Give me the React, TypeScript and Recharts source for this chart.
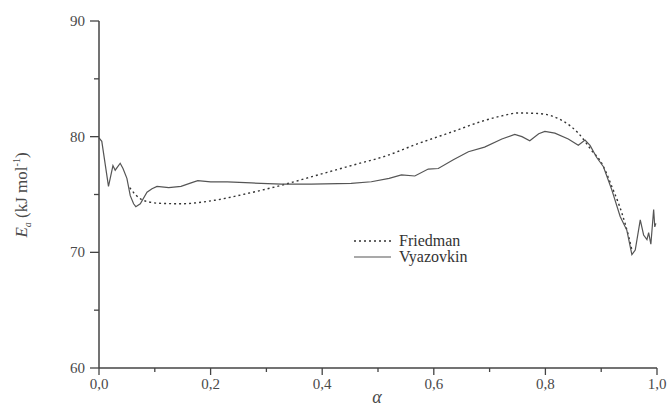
import React from 'react';
import { LineChart, Line, XAxis, YAxis, Legend } from 'recharts';

// conversion degree (alpha) vs activation energy
const friedmanAlpha = [
  0.055, 0.065, 0.075, 0.09, 0.105, 0.147, 0.207, 0.267, 0.327, 0.393, 0.452, 0.512,
  0.572, 0.632, 0.691, 0.722, 0.752, 0.788, 0.811, 0.835, 0.859, 0.883, 0.901, 0.919,
  0.937, 0.949, 0.955,
];
const friedmanEa = [
  75.6, 75.0, 74.6, 74.35, 74.25, 74.2, 74.5, 75.1, 75.8, 76.7, 77.5, 78.3,
  79.4, 80.4, 81.4, 81.8, 82.05, 82.0, 81.8, 81.25, 80.3, 78.8, 77.7, 75.7,
  73.4, 71.4, 70.2,
];

const vyazovkinAlpha = [
  0.0, 0.005, 0.017, 0.025, 0.029, 0.038, 0.043, 0.05, 0.056, 0.062, 0.066, 0.074,
  0.086, 0.095, 0.104, 0.125, 0.147, 0.165, 0.177, 0.2, 0.23, 0.273, 0.327, 0.38,
  0.452, 0.488, 0.52, 0.542, 0.566, 0.59, 0.608, 0.635, 0.662, 0.691, 0.722, 0.745,
  0.758, 0.772, 0.788, 0.799, 0.817, 0.841, 0.859, 0.871, 0.88, 0.892, 0.904, 0.919,
  0.934, 0.946, 0.955, 0.961, 0.97, 0.976, 0.982, 0.985, 0.989, 0.994, 0.996, 0.998,
];
const vyazovkinEa = [
  79.9, 79.6, 75.7, 77.5, 77.1, 77.7, 77.25, 76.4, 74.9, 74.2, 73.95, 74.2,
  75.2, 75.5, 75.7, 75.6, 75.7, 76.0, 76.2, 76.1, 76.1, 76.0, 75.9, 75.9,
  75.96, 76.1, 76.4, 76.7, 76.6, 77.2, 77.25, 78.0, 78.7, 79.1, 79.8, 80.2,
  80.0, 79.65, 80.25, 80.45, 80.3, 79.8, 79.25, 79.7, 79.25, 78.2, 77.4, 75.4,
  73.1, 71.9, 69.8, 70.2, 72.8, 71.5, 71.1, 71.7, 70.7, 73.7, 72.2, 72.5,
];

const xTicks = [0, 0.1, 0.2, 0.3, 0.4, 0.5, 0.6, 0.7, 0.8, 0.9, 1.0];
const yTicks = [60, 65, 70, 75, 80, 85, 90];

const friedman = friedmanAlpha.map((a, i) => ({ a, ea: friedmanEa[i] }));
const vyazovkin = vyazovkinAlpha.map((a, i) => ({ a, ea: vyazovkinEa[i] }));

const AXIS = '#444';
const TEXT = '#4a4a4a';
const FONT = 'Liberation Serif, Times New Roman, DejaVu Serif, serif';

const series = [
  { name: 'Friedman', color: '#333', dash: '2 3', width: 1.4 },
  { name: 'Vyazovkin', color: '#555', dash: undefined, width: 1.2 },
];

function XTick({ x, y, payload }: any) {
  const major = Math.round(payload.value * 10) % 2 === 0;
  return (
    <g>
      <line x1={x} x2={x} y1={y} y2={y + (major ? 7 : 4)} stroke={AXIS} strokeWidth={1.3} />
      {major && (
        <text x={x} y={y + 21} textAnchor="middle" style={{ fontFamily: FONT }} fontSize={15} fill={TEXT}>
          {payload.value.toFixed(1).replace('.', ',')}
        </text>
      )}
    </g>
  );
}

function YTick({ x, y, payload }: any) {
  const major = payload.value % 10 === 0;
  return (
    <g>
      <line x1={x} x2={x - (major ? 9 : 5)} y1={y} y2={y} stroke={AXIS} strokeWidth={1.3} />
      {major && (
        <text x={x - 14} y={y + 5} textAnchor="end" style={{ fontFamily: FONT }} fontSize={15} fill={TEXT}>
          {payload.value}
        </text>
      )}
    </g>
  );
}

function YLabel() {
  return (
    <text
      transform="translate(27,195) rotate(-90)"
      textAnchor="middle"
      style={{ fontFamily: FONT }}
      fontSize={17}
      fill={TEXT}
    >
      <tspan fontStyle="italic">E</tspan>
      <tspan fontStyle="italic" fontSize={10} dy={4}>a</tspan>
      <tspan dy={-4}> (kJ mol</tspan>
      <tspan fontSize={10} dy={-7}>-1</tspan>
      <tspan dy={7}>)</tspan>
    </text>
  );
}

function XLabel() {
  return (
    <text x={377} y={403} textAnchor="middle" style={{ fontFamily: FONT }} fontStyle="italic" fontSize={18} fill={TEXT}>
      α
    </text>
  );
}

function LegendBox() {
  return (
    <div style={{ fontFamily: FONT, fontSize: 16, color: '#333', lineHeight: '16px' }}>
      {series.map((s) => (
        <div key={s.name} style={{ display: 'flex', alignItems: 'center' }}>
          <svg width={45} height={16}>
            <line x1={0} x2={37} y1={8} y2={8} stroke={s.color} strokeWidth={s.width} strokeDasharray={s.dash} />
          </svg>
          <span>{s.name}</span>
        </div>
      ))}
    </div>
  );
}

export default function App() {
  return (
    <div style={{ width: 669, height: 410, background: '#fff' }}>
      <style>{'body{margin:0}'}</style>
      <LineChart width={669} height={410} margin={{ top: 21, right: 12, bottom: 0, left: 39 }}>
        <XAxis
          type="number"
          dataKey="a"
          domain={[0, 1]}
          ticks={xTicks}
          interval={0}
          height={42}
          tickSize={0}
          tickMargin={0}
          tickLine={false}
          tick={<XTick />}
          axisLine={{ stroke: AXIS, strokeWidth: 1.5 }}
          label={<XLabel />}
        />
        <YAxis
          type="number"
          domain={[60, 90]}
          ticks={yTicks}
          interval={0}
          width={60}
          tickSize={0}
          tickMargin={0}
          tickLine={false}
          tick={<YTick />}
          axisLine={{ stroke: AXIS, strokeWidth: 1.5 }}
          label={<YLabel />}
        />
        <Legend
          layout="horizontal"
          verticalAlign="middle"
          align="center"
          content={<LegendBox />}
          wrapperStyle={{ left: 354, top: 233, width: 'auto' }}
        />
        <Line
          data={friedman}
          dataKey="ea"
          name="Friedman"
          type="monotone"
          stroke={series[0].color}
          strokeWidth={series[0].width}
          strokeDasharray={series[0].dash}
          dot={false}
          isAnimationActive={false}
        />
        <Line
          data={vyazovkin}
          dataKey="ea"
          name="Vyazovkin"
          type="linear"
          stroke={series[1].color}
          strokeWidth={series[1].width}
          dot={false}
          isAnimationActive={false}
        />
      </LineChart>
    </div>
  );
}
